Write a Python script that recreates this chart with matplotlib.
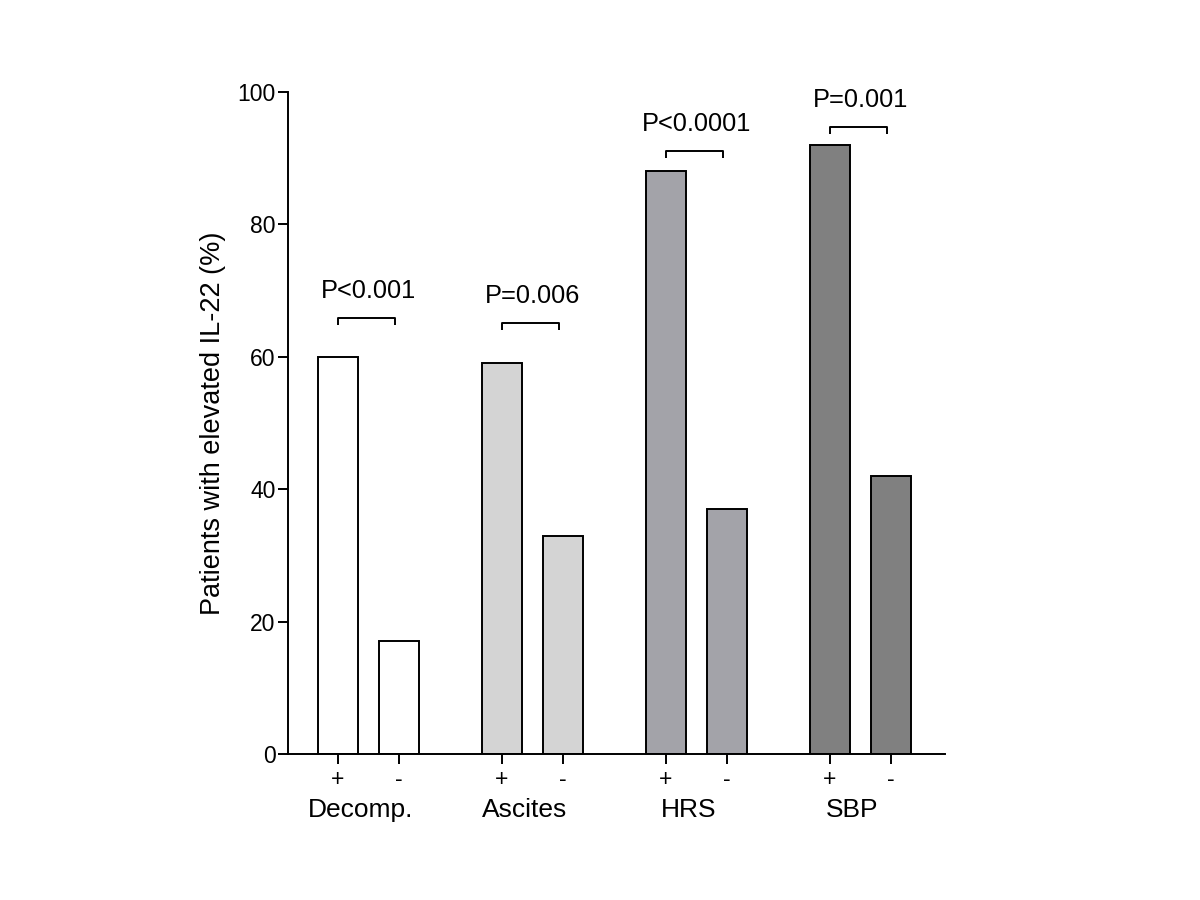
import matplotlib.pyplot as plt
import matplotlib.transforms as mtransforms

plt.rcParams['font.family'] = ['Liberation Sans', 'DejaVu Sans']

groups = ['Decomp.', 'Ascites', 'HRS', 'SBP']
plus_values = [60, 59, 88, 92]
minus_values = [17, 33, 37, 42]
p_labels = ['P<0.001', 'P=0.006', 'P<0.0001', 'P=0.001']
bracket_heights = [65.9, 65.1, 91.1, 94.7]
colors = ['#ffffff', '#d4d4d4', '#a3a3a9', '#808080']

group_step = 4.1
pair_gap = 1.525
lw = 1.4

fig = plt.figure(figsize=(12, 9), dpi=100)
ax = fig.add_axes([0.24, 0.1622, 0.5475, 0.7356])
trans = mtransforms.blended_transform_factory(ax.transData, ax.transAxes)

xticks = []
xlabels = []
for i, g in enumerate(groups):
    xp = i * group_step
    xm = xp + pair_gap
    ax.bar(xp, plus_values[i], width=1.0, color=colors[i], edgecolor='black', linewidth=lw)
    ax.bar(xm, minus_values[i], width=1.0, color=colors[i], edgecolor='black', linewidth=lw)
    xticks += [xp, xm]
    xlabels += ['+', '-']
    # significance bracket
    h = bracket_heights[i]
    ax.plot([xp, xp, xm - 0.1, xm - 0.1], [h - 1.1, h, h, h - 1.1], color='black', lw=lw,
            solid_capstyle='butt', clip_on=False)
    ax.text((xp + xm) / 2, h + 3, p_labels[i], ha='center', va='baseline', fontsize=18.3)
    ax.text((xp + xm) / 2 - 0.2, -0.066, g, ha='center', va='top', fontsize=19, transform=trans)

ax.set_xlim(-1.25, 15.175)
ax.set_ylim(0, 100)
ax.set_yticks([0, 20, 40, 60, 80, 100])
ax.set_xticks(xticks)
ax.set_xticklabels(xlabels, fontsize=16.5)
ax.tick_params(axis='y', labelsize=16.5, width=lw, length=7, pad=2)
ax.tick_params(axis='x', width=lw, length=7, pad=3)
ax.spines['top'].set_visible(False)
ax.spines['right'].set_visible(False)
ax.spines['left'].set_linewidth(lw)
ax.spines['bottom'].set_linewidth(lw)
ax.set_ylabel('Patients with elevated IL-22 (%)', fontsize=19.5, labelpad=8)

fig.savefig('out.png', dpi=100)
